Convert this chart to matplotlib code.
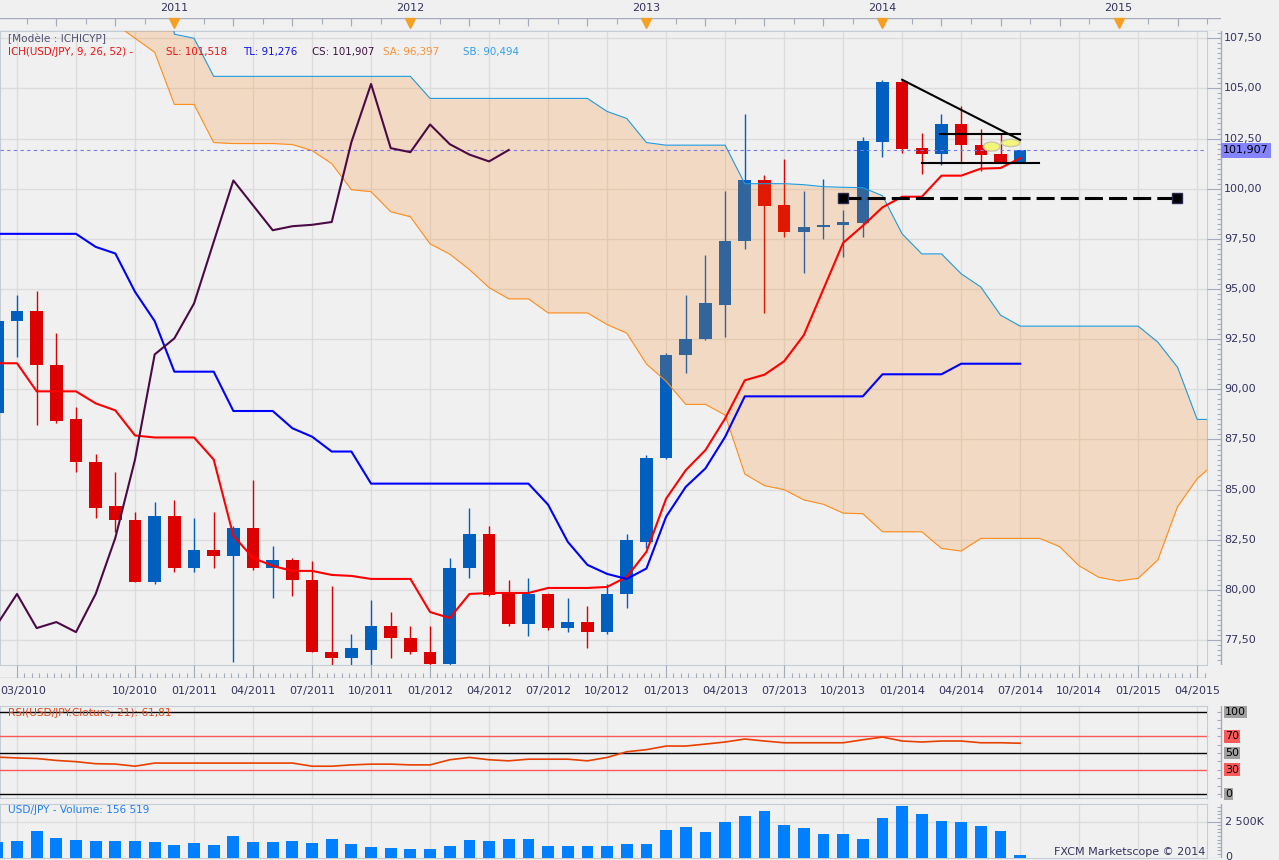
import numpy as np
import pandas as pd
import matplotlib
matplotlib.use("Agg")
import matplotlib.pyplot as plt
from matplotlib.patches import Ellipse
from matplotlib.transforms import blended_transform_factory as blend

plt.rcParams.update({"font.family": "DejaVu Sans", "font.size": 8})

W, H = 1279, 860
BG = "#F0F0F0"
GRID = "#DCDCDC"
FRAME = "#C4CCD8"
AXIS = "#A4ACBC"
TXT = "#333360"
UP = "#005FBF"
DOWN = "#DD0000"

# ----------------------------------------------------
# Data : USD/JPY monthly, first candle = 03/2010
# ----------------------------------------------------
months = pd.period_range("2010-03", periods=63, freq="M")
month_str = [m.strftime("%m/%Y") for m in months]

opens = [88.8, 93.4, 93.9, 91.2, 88.5, 86.4, 84.2, 83.5, 80.4, 83.7,
         81.1, 82.0, 81.7, 83.1, 81.1, 81.5, 80.5, 76.9, 76.6, 77.0,
         78.2, 77.6, 76.9, 76.3, 81.1, 82.8, 79.8, 78.3, 79.8, 78.1,
         78.4, 77.9, 79.8, 82.4, 86.6, 91.7, 92.5, 94.2, 97.4, 100.45,
         99.2, 97.85, 98.1, 98.2, 98.3, 102.35, 105.3, 102.05, 101.75, 103.2,
         102.2, 101.75, 101.35]
highs = [93.8, 94.7, 94.9, 92.8, 89.1, 86.8, 85.9, 83.9, 84.4, 84.5,
         83.6, 83.9, 83.2, 85.5, 82.2, 81.6, 81.45, 80.2, 77.8, 79.5,
         78.9, 78.2, 78.2, 81.6, 84.1, 83.2, 80.5, 80.6, 79.85, 79.6,
         79.2, 80.3, 82.8, 86.75, 91.8, 94.7, 96.7, 99.9, 103.7, 100.7,
         101.5, 99.9, 100.5, 98.95, 102.6, 105.4, 105.4, 102.8, 103.7, 104.1,
         103.0, 102.8, 101.95]
lows = [88.4, 91.6, 88.2, 88.3, 85.9, 83.6, 82.9, 80.4, 80.3, 80.9,
        80.9, 81.1, 76.4, 81.0, 79.6, 79.7, 76.9, 75.9, 75.9, 75.6,
        76.6, 76.8, 76.0, 76.1, 80.6, 79.7, 78.2, 77.7, 78.0, 77.9,
        77.1, 77.8, 79.1, 82.1, 86.55, 90.8, 92.45, 92.6, 97.0, 93.8,
        97.6, 95.8, 97.5, 96.6, 97.6, 101.6, 101.8, 100.75, 101.2, 101.35,
        100.9, 101.35, 101.3]
closes = [93.4, 93.9, 91.2, 88.4, 86.4, 84.1, 83.5, 80.4, 83.7, 81.1,
          82.0, 81.7, 83.1, 81.1, 81.5, 80.5, 76.9, 76.6, 77.1, 78.2,
          77.6, 76.9, 76.3, 81.1, 82.8, 79.75, 78.3, 79.8, 78.1, 78.4,
          77.9, 79.8, 82.5, 86.6, 91.7, 92.5, 94.3, 97.4, 100.45, 99.15,
          97.85, 98.1, 98.2, 98.35, 102.4, 105.3, 102.0, 101.75, 103.2, 102.2,
          101.7, 101.35, 101.907]

tenkan = [91.3, 91.3, 89.9, 89.9, 89.9, 89.3, 88.95, 87.7, 87.6, 87.6,
          87.6, 86.5, 82.7, 81.6, 81.2, 80.95, 80.95, 80.75, 80.7, 80.55,
          80.55, 80.55, 78.9, 78.6, 79.8, 79.85, 79.85, 79.85, 80.1, 80.1,
          80.1, 80.15, 80.65, 81.9, 84.55, 85.97, 86.97, 88.55, 90.45, 90.73,
          91.4, 92.7, 95.0, 97.3, 98.15, 99.07, 99.6, 99.6, 100.65, 100.65,
          101.0, 101.03, 101.518]
kijun = [97.75, 97.75, 97.75, 97.75, 97.75, 97.1, 96.77, 94.86, 93.4, 90.88,
         90.88, 90.88, 88.92, 88.92, 88.92, 88.06, 87.64, 86.9, 86.9, 85.3,
         85.3, 85.3, 85.3, 85.3, 85.3, 85.3, 85.3, 85.3, 84.25, 82.4,
         81.25, 80.8, 80.55, 81.07, 83.65, 85.14, 86.06, 87.63, 89.65, 89.65,
         89.65, 89.65, 89.65, 89.65, 89.65, 90.75, 90.75, 90.75, 90.75, 91.276,
         91.276, 91.276, 91.276]
chikou = [78.3, 79.8, 78.1, 78.4, 77.9, 79.8, 82.6, 86.5, 91.74, 92.54,
          94.28, 97.35, 100.41, 99.17, 97.93, 98.13, 98.2, 98.34, 102.32, 105.22,
          102.02, 101.82, 103.2, 102.22, 101.7, 101.36, 101.93]
senkou_a = [111.0, 111.0, 110.5, 110.0, 109.5, 109.0, 108.2, 107.5, 106.8, 104.2,
            104.2, 102.3, 102.25, 102.25, 102.25, 102.2, 101.9, 101.25, 99.95, 99.85,
            98.85, 98.6, 97.25, 96.74, 95.97, 95.07, 94.51, 94.51, 93.81, 93.81,
            93.81, 93.23, 92.8, 91.26, 90.4, 89.25, 89.25, 88.72, 85.78, 85.2,
            85.0, 84.49, 84.27, 83.83, 83.8, 82.9, 82.9, 82.9, 82.07, 81.94,
            82.57, 82.57, 82.57, 82.57, 82.16, 81.2, 80.63, 80.45, 80.58, 81.5,
            84.15, 85.55, 86.4]
senkou_b = [115.0, 115.0, 115.0, 115.0, 115.0, 115.0, 115.0, 115.0, 115.0, 107.7,
            107.5, 105.6, 105.6, 105.6, 105.6, 105.6, 105.6, 105.6, 105.6, 105.6,
            105.6, 105.6, 104.5, 104.5, 104.5, 104.5, 104.5, 104.5, 104.5, 104.5,
            104.5, 103.85, 103.5, 102.3, 102.17, 102.17, 102.17, 102.17, 100.25, 100.25,
            100.25, 100.2, 100.1, 100.07, 100.05, 99.65, 97.75, 96.75, 96.75, 95.76,
            95.1, 93.7, 93.15, 93.15, 93.15, 93.15, 93.15, 93.15, 93.15, 92.35,
            91.1, 88.5, 88.5]

rsi = [45.0, 44.0, 43.3, 41.0, 39.5, 37.0, 36.6, 34.0, 37.8, 37.8,
       37.8, 37.8, 37.8, 37.8, 37.8, 37.8, 34.0, 34.0, 35.6, 36.5,
       36.5, 35.6, 35.6, 41.8, 44.6, 41.8, 40.5, 42.5, 42.5, 42.5,
       40.5, 44.6, 51.5, 54.0, 58.4, 58.4, 60.8, 63.3, 66.9, 64.5,
       62.4, 62.4, 62.4, 62.4, 66.0, 69.3, 64.5, 63.3, 64.5, 64.5,
       62.4, 62.4, 61.81]
volume_k = [1111, 1157, 1852, 1389, 1227, 1157, 1157, 1157, 1088, 880,
            1019, 880, 1505, 1088, 1088, 1157, 1019, 1296, 949, 741,
            671, 602, 602, 810, 1227, 1157, 1296, 1296, 810, 810,
            810, 810, 949, 949, 1921, 2130, 1782, 2477, 2894, 3241,
            2269, 2060, 1644, 1644, 1296, 2755, 3588, 3032, 2546, 2477,
            2199, 1852, 156.5]

date_labels = ["10/2010", "01/2011", "04/2011", "07/2011", "10/2011",
               "01/2012", "04/2012", "07/2012", "10/2012", "01/2013",
               "04/2013", "07/2013", "10/2013", "01/2014", "04/2014",
               "07/2014", "10/2014", "01/2015", "04/2015"]
year_labels = ["2011", "2012", "2013", "2014", "2015"]
price_ticks = np.arange(77.5, 107.6, 2.5)

# drawing tools placed on the chart (index, price)
trend_down = ([46, 52], [105.43, 102.43])
res_line = ([47.93, 52], [102.75, 102.75])
sup_line = ([47.0, 52.96], [101.30, 101.30])
dash_level = ([43.0, 59.97], [99.54, 99.54])

# ----------------------------------------------------
# Figure / helpers
# ----------------------------------------------------
fig = plt.figure(figsize=(W / 100, H / 100), dpi=100, facecolor=BG)


def px_axes(x0, y0, x1, y1):
    a = fig.add_axes([x0 / W, 1 - y1 / H, (x1 - x0) / W, (y1 - y0) / H])
    a.set_facecolor(BG)
    return a


def fy(y):
    return 1 - y / H


def num(v, d):
    return f"{v:.{d}f}".replace(".", ",")


XL = ((0 + 2.67) / 19.67, (1207 + 2.67) / 19.67)
XL_FULL = ((0 + 2.67) / 19.67, (1221 + 2.67) / 19.67)
vgrid = np.arange(1, 62, 3)


def style_panel(a):
    a.set_xlim(*XL)
    a.set_xticks(vgrid)
    a.tick_params(length=0, labelbottom=False, labelleft=False)
    a.grid(True, color=GRID, lw=1)
    a.set_axisbelow(True)
    for s in a.spines.values():
        s.set_color(FRAME)


def right_scale(y0, y1, ylim):
    a = fig.add_axes([1207 / W, 1 - y1 / H, 72 / W, (y1 - y0) / H])
    a.set_xlim(0, 72)
    a.set_ylim(*ylim)
    a.axis("off")
    a.plot([14, 14], ylim, color=AXIS, lw=1)
    return a


# ----------------------------------------------------
# Main price panel
# ----------------------------------------------------
ax = px_axes(0, 31, 1207, 665)
style_panel(ax)
ylim_main = (76.26, 107.86)
ax.set_ylim(*ylim_main)
ax.set_yticks(price_ticks)

x = np.arange(len(closes))
o = np.array(opens)
c = np.array(closes)
col = np.where(c >= o, UP, DOWN)
ax.vlines(x, lows, highs, colors=col, lw=1, zorder=2)
ax.bar(x, np.maximum(np.abs(c - o), 0.08), bottom=np.minimum(o, c),
       width=0.64, color=col, zorder=3)

xs = np.arange(len(senkou_a))
ax.fill_between(xs, senkou_a, senkou_b, color=(250 / 255, 127 / 255, 15 / 255),
                alpha=0.2, lw=0, zorder=4)
ax.plot(xs, senkou_a, color="#FF8C1A", lw=0.8, zorder=5)
ax.plot(xs, senkou_b, color="#1E9BE0", lw=0.8, zorder=5)
ax.plot(x, tenkan, color="#FF0000", lw=1.5, zorder=6)
ax.plot(x, kijun, color="#0000FF", lw=1.5, zorder=6)
ax.plot(np.arange(len(chikou)), chikou, color="#4B0A46", lw=1.5, zorder=6)

ax.axhline(closes[-1], color="#7878F0", lw=0.8, ls=(0, (3, 3)), zorder=5)

ax.plot(*trend_down, color="black", lw=1.5, zorder=8)
ax.plot(*res_line, color="black", lw=1.5, zorder=8)
ax.plot(*sup_line, color="black", lw=1.5, zorder=8)
ax.add_patch(Ellipse((50.55, 102.1), 0.85, 0.45, fc="#F5F57A", ec="#C8C8A8",
                     lw=1, zorder=7))
ax.add_patch(Ellipse((51.52, 102.28), 0.93, 0.36, fc="#F5F57A", ec="#C8C8A8",
                     lw=1, zorder=7))
ax.plot(*dash_level, color="black", lw=2.2, dashes=(5.9, 2.0), zorder=8)
ax.plot(*dash_level, ls="none", marker="s", ms=6.5, mfc="black",
        mec="#2A2A50", mew=1, zorder=9)

# legend texts
fig.text(8 / W, fy(39), "[Modèle : ICHICYP]", color="#505070", va="center", fontsize=7.6)
legend_parts = [
    (8, "ICH(USD/JPY, 9, 26, 52) -", "#F01010"),
    (166, "SL: " + num(tenkan[-1], 3), "#F01010"),
    (243, "TL: " + num(kijun[-1], 3), "#1010F0"),
    (312, "CS: " + num(closes[-1], 3), "#401040"),
    (383, "SA: 96,397", "#FF9030"),
    (463, "SB: 90,494", "#30A0F0"),
]
for px_x, s, colr in legend_parts:
    fig.text(px_x / W, fy(52), s, color=colr, va="center", fontsize=7.4)

# right price scale
axr = right_scale(31, 665, ylim_main)
axr.hlines(np.arange(76.5, 107.86, 0.25), 10, 14, color=AXIS, lw=0.8)
axr.hlines(price_ticks, 0, 14, color=AXIS, lw=0.8)
for p in price_ticks:
    axr.text(17, p, num(p, 2), va="center", color=TXT, fontsize=8)
axr.text(16, closes[-1], num(closes[-1], 3), va="center", color="black",
         fontsize=8, bbox=dict(fc="#8484FF", ec="none", pad=1.6), zorder=5)

# ----------------------------------------------------
# Top year strip
# ----------------------------------------------------
axt = px_axes(0, 18, 1221, 31)
axt.set_xlim(*XL_FULL)
axt.set_ylim(0, 1)
axt.axis("off")
axt.axhline(1, color=AXIS, lw=1)
axt.axhline(0, color=FRAME, lw=1)
small = np.arange(0, 62, 1.5)
axt.vlines(small, 0.55, 1, color=AXIS, lw=0.8)
axt.vlines(small[::2], 0.35, 1, color=AXIS, lw=0.8)
year_pos = [month_str.index("01/" + y) - 1 for y in year_labels]
axt.plot(year_pos, [0.62] * len(year_pos), ls="none", marker="v", ms=7,
         color="#F5A020", clip_on=False)
tr_top = blend(axt.transData, fig.transFigure)
for pos, lab in zip(year_pos, year_labels):
    axt.text(pos, fy(8), lab, transform=tr_top, ha="center", va="center",
             color=TXT, fontsize=8)

# ----------------------------------------------------
# Bottom tick strip + date labels
# ----------------------------------------------------
axb = px_axes(0, 665, 1207, 678)
axb.set_xlim(*XL)
axb.set_ylim(0, 1)
axb.axis("off")
axb.axhline(0, color=AXIS, lw=1)
axb.vlines(np.arange(1, 62, 3 / 8), 0, 0.35, color=AXIS, lw=0.8)
axb.vlines(vgrid, 0, 1, color=AXIS, lw=0.8)

tr_bot = blend(ax.transData, fig.transFigure)
for lab in date_labels:
    ax.text(month_str.index(lab), fy(691), lab, transform=tr_bot, ha="center",
            va="center", color=TXT, fontsize=8, clip_on=False)
fig.text(0, fy(691), month_str[0], ha="left", va="center", color=TXT, fontsize=8)

# ----------------------------------------------------
# RSI panel
# ----------------------------------------------------
ylim_rsi = (-4.5, 106.9)
axi = px_axes(0, 706, 1207, 798)
style_panel(axi)
axi.set_ylim(*ylim_rsi)
axi.set_yticks([])
axi.grid(True, axis="x", color=GRID, lw=1)
axi.axhline(100, color="black", lw=1, zorder=3)
axi.axhline(50, color="black", lw=1, zorder=3)
axi.axhline(0, color="black", lw=1, zorder=3)
axi.axhline(70, color="#FF5A5A", lw=1, zorder=3)
axi.axhline(30, color="#FF5A5A", lw=1, zorder=3)
axi.plot(x, rsi, color="#E84000", lw=1.2, zorder=4)
fig.text(8 / W, fy(713), "RSI(USD/JPY.Cloture, 21): " + num(rsi[-1], 2),
         color="#E04818", va="center", fontsize=7.6, zorder=1)

axri = right_scale(706, 798, ylim_rsi)
axri.hlines(np.arange(0, 101, 10), 10, 14, color=AXIS, lw=0.8)
for lvl, bg in [(100, "#A0A0A0"), (70, "#FF5A5A"), (50, "#A0A0A0"),
                (30, "#FF5A5A"), (0, "#A0A0A0")]:
    axri.text(18, lvl, str(lvl), va="center", color="black", fontsize=8,
              bbox=dict(fc=bg, ec="none", pad=0.8))

# ----------------------------------------------------
# Volume panel
# ----------------------------------------------------
ylim_vol = (0, 3729)
axv = px_axes(0, 804, 1207, 857.7)
style_panel(axv)
axv.set_ylim(*ylim_vol)
axv.set_yticks([2500])
axv.bar(x, volume_k, width=0.6, color="#0080FF", zorder=3)
fig.text(8 / W, fy(810), "USD/JPY - Volume: 156 519", color="#2080F0",
         va="center", fontsize=7.6)
fig.text(1205 / W, fy(852), "FXCM Marketscope © 2014", color=TXT,
         ha="right", va="center", fontsize=8)

axrv = right_scale(804, 857.7, ylim_vol)
axrv.hlines(np.arange(0, 3729, 250), 10, 14, color=AXIS, lw=0.8)
axrv.hlines([0, 2500], 0, 14, color=AXIS, lw=0.8)
axrv.text(18, 2500, "2 500K", va="center", color=TXT, fontsize=8)
axrv.text(18, 60, "0", va="center", color=TXT, fontsize=8)

fig.savefig("out.png", dpi=100, facecolor=BG)
